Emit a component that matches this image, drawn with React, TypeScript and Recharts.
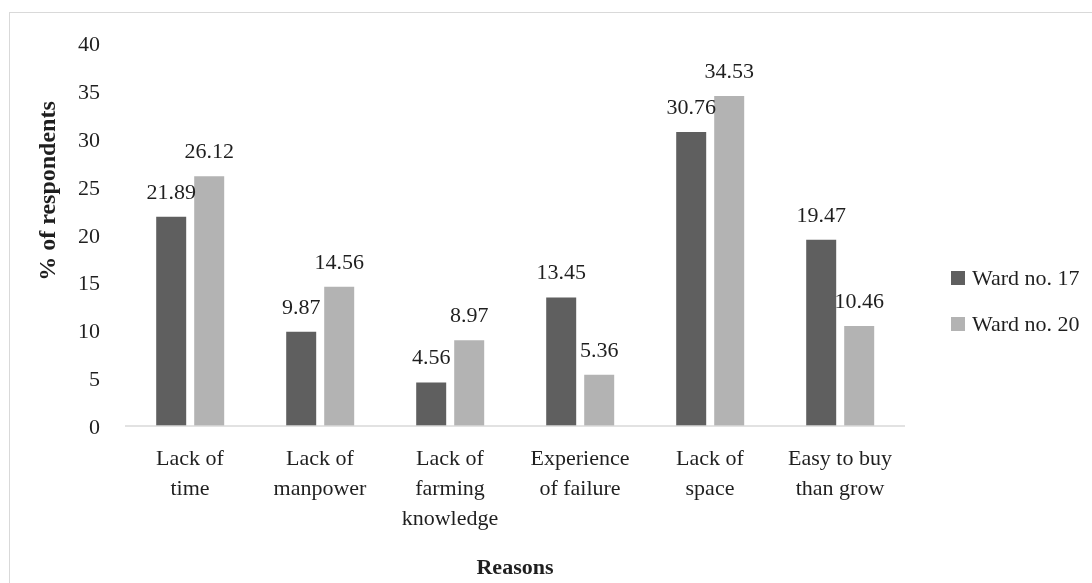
import { Bar, BarChart, LabelList, XAxis, YAxis } from 'recharts';

const reasons = [
  'Lack of\ntime',
  'Lack of\nmanpower',
  'Lack of\nfarming\nknowledge',
  'Experience\nof failure',
  'Lack of\nspace',
  'Easy to buy\nthan grow',
];
const ward17 = [21.89, 9.87, 4.56, 13.45, 30.76, 19.47];
const ward20 = [26.12, 14.56, 8.97, 5.36, 34.53, 10.46];
const yTicks = [0, 5, 10, 15, 20, 25, 30, 35, 40];

const series = [
  { key: 'ward17', name: 'Ward no. 17', color: '#5f5f5f' },
  { key: 'ward20', name: 'Ward no. 20', color: '#b3b3b3' },
];

const data = reasons.map((r, i) => ({ reason: r, ward17: ward17[i], ward20: ward20[i] }));

const FONT = '"Liberation Serif", "Times New Roman", serif';
const TEXT = '#1f1f1f';

function CategoryTick(props: any) {
  const { x, y, payload } = props;
  const lines = String(payload.value).split('\n');
  return (
    <text x={x} y={y + 31} textAnchor="middle" fontFamily={FONT} fontSize={22} fill={TEXT}>
      {lines.map((l, i) => (
        <tspan key={i} x={x} dy={i === 0 ? 0 : 30}>
          {l}
        </tspan>
      ))}
    </text>
  );
}

function YTitle() {
  // titulo del eje Y, algo por encima del centro como en el original
  const cx = 37;
  const cy = 178;
  return (
    <text
      x={cx}
      y={cy}
      transform={`rotate(-90 ${cx} ${cy})`}
      textAnchor="middle"
      dominantBaseline="central"
      fontFamily={FONT}
      fontSize={24}
      fontWeight="bold"
      fill={TEXT}
    >
      % of respondents
    </text>
  );
}

function LegendBox() {
  return (
    <div style={{ position: 'absolute', left: 941, top: 242, fontFamily: FONT, fontSize: 22, color: TEXT }}>
      {series.map((s) => (
        <div key={s.key} style={{ display: 'flex', alignItems: 'center', height: 46, whiteSpace: 'nowrap' }}>
          <span style={{ width: 14, height: 14, background: s.color, marginRight: 7, display: 'inline-block' }} />
          {s.name}
        </div>
      ))}
    </div>
  );
}

export default function App() {
  return (
    <div style={{ position: 'fixed', left: 9, top: 12, width: 1083, height: 571, overflow: 'hidden' }}>
      <div
        style={{
          position: 'relative',
          borderLeft: '1px solid #d9d9d9',
          borderTop: '1px solid #d9d9d9',
          width: 1250,
          height: 620,
        }}
      >
        <BarChart
          width={1200}
          height={600}
          data={data}
          margin={{ top: 30.6, right: 305, left: 0, bottom: 37 }}
          barCategoryGap="24%"
          barGap={8}
        >
          <XAxis
            dataKey="reason"
            height={150}
            axisLine={{ stroke: '#d9d9d9', strokeWidth: 1.5 }}
            tickLine={false}
            tick={<CategoryTick />}
            interval={0}
            label={{
              value: 'Reasons',
              position: 'insideBottom',
              offset: 2,
              fontFamily: FONT,
              fontSize: 22,
              fontWeight: 'bold',
              fill: TEXT,
            }}
          />
          <YAxis
            width={115}
            domain={[0, 40]}
            ticks={yTicks}
            interval={0}
            axisLine={false}
            tickLine={false}
            tickSize={0}
            tickMargin={25}
            tick={{ fontFamily: FONT, fontSize: 22, fill: TEXT }}
            label={<YTitle />}
          />
          {series.map((s) => (
            <Bar key={s.key} dataKey={s.key} name={s.name} fill={s.color} isAnimationActive={false}>
              <LabelList
                dataKey={s.key}
                position="top"
                offset={18}
                fontFamily={FONT}
                fontSize={22}
                fill={TEXT}
              />
            </Bar>
          ))}
        </BarChart>
        <LegendBox />
      </div>
    </div>
  );
}
